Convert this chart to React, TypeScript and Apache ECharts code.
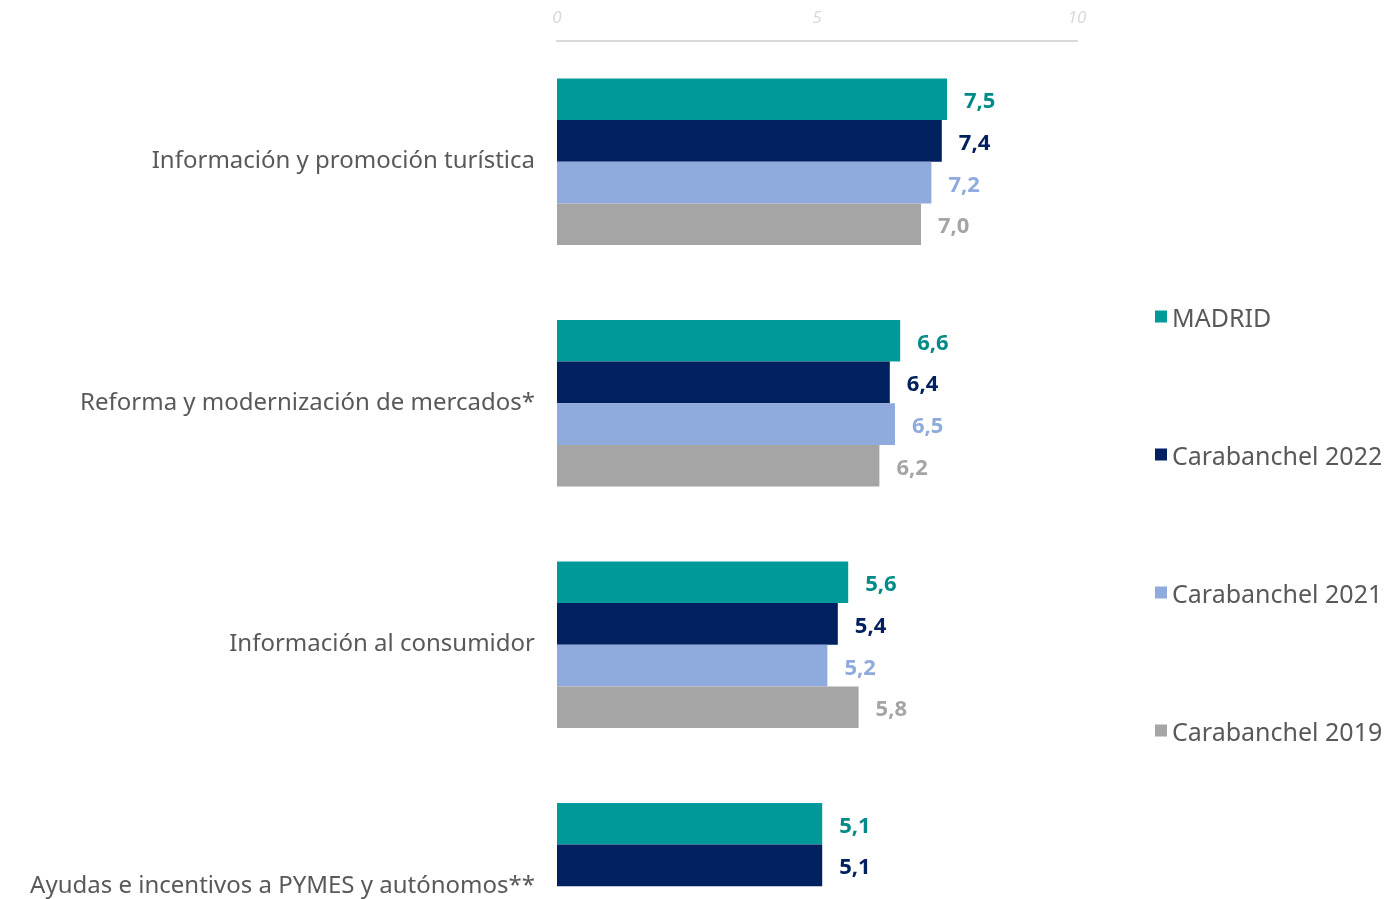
import React, { useEffect, useRef } from "react";
import * as echarts from "echarts";

const categories = [
  "Información y promoción turística",
  "Reforma y modernización de mercados*",
  "Información al consumidor",
  "Ayudas e incentivos a PYMES y autónomos**",
];
const seriesNames = ["MADRID", "Carabanchel 2022", "Carabanchel 2021", "Carabanchel 2019"];
const madrid = [7.5, 6.6, 5.6, 5.1];
const cb2022 = [7.4, 6.4, 5.4, 5.1];
const cb2021 = [7.2, 6.5, 5.2, null];
const cb2019 = [7.0, 6.2, 5.8, null];
const xTicks = [0, 5, 10];

const barColors = ["#009999", "#002060", "#8faadc", "#a5a5a5"];
const labelColors = ["#008b88", "#002060", "#8faadc", "#a5a5a5"];
const FONT = "'Noto Sans', sans-serif";

export default function App() {
  const ref = useRef<HTMLDivElement>(null);
  useEffect(() => {
    if (!ref.current) return;
    const chart = echarts.init(ref.current, undefined, { renderer: "svg" });
    const datasets = [madrid, cb2022, cb2021, cb2019];
    chart.setOption({
      animation: false,
      textStyle: { fontFamily: FONT },
      grid: { left: 557, top: 41, width: 520, height: 966, containLabel: false },
      xAxis: {
        type: "value",
        position: "top",
        min: xTicks[0],
        max: xTicks[xTicks.length - 1],
        interval: 5,
        axisLine: { show: true, lineStyle: { color: "#d9d9d9", width: 2 } },
        axisTick: { show: false },
        splitLine: { show: false },
        axisLabel: {
          color: "#d9d9d9",
          fontStyle: "italic",
          fontSize: 17,
          margin: 16,
          fontFamily: FONT,
        },
      },
      yAxis: {
        type: "category",
        inverse: true,
        data: categories,
        axisLine: { show: false },
        axisTick: { show: false },
        axisLabel: {
          margin: 22,
          formatter: (v: string) => `{a|${v}}`,
          rich: {
            a: {
              color: "#595959",
              fontSize: 24,
              fontFamily: FONT,
              padding: [0, 0, 6, 0],
            },
          },
        },
      },
      legend: {
        orient: "vertical",
        left: 1150,
        top: 299,
        itemWidth: 12,
        itemHeight: 12,
        itemGap: 113,
        icon: "rect",
        data: seriesNames,
        textStyle: { color: "#595959", fontSize: 25, fontFamily: FONT },
      },
      series: datasets.map((d, i) => ({
        name: seriesNames[i],
        type: "bar",
        data: d,
        barGap: "0%",
        barCategoryGap: "31%",
        itemStyle: { color: barColors[i] },
        label: {
          show: true,
          position: "right",
          distance: 17,
          fontWeight: "bold",
          fontSize: 22,
          color: labelColors[i],
          fontFamily: FONT,
          formatter: (p: any) => (p.value == null ? "" : Number(p.value).toFixed(1).replace(".", ",")),
        },
      })),
    });
    return () => chart.dispose();
  }, []);
  return (
    <div
      ref={ref}
      style={{ position: "fixed", left: 0, top: 0, width: 1394, height: 1020 }}
    />
  );
}
